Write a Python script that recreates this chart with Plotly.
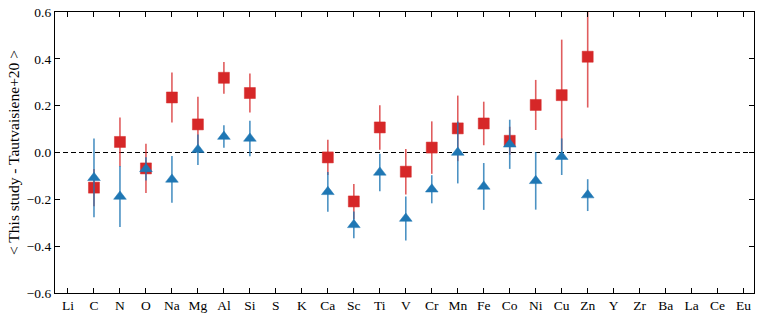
import plotly.graph_objects as go

elements = ["Li", "C", "N", "O", "Na", "Mg", "Al", "Si", "S", "K", "Ca", "Sc", "Ti", "V",
            "Cr", "Mn", "Fe", "Co", "Ni", "Cu", "Zn", "Y", "Zr", "Ba", "La", "Ce", "Eu"]

# Red squares
red_elem = ["C", "N", "O", "Na", "Mg", "Al", "Si", "Ca", "Sc", "Ti", "V", "Cr", "Mn", "Fe", "Co", "Ni", "Cu", "Zn"]
red_val = [-0.15, 0.045, -0.068, 0.235, 0.12, 0.319, 0.254, -0.021, -0.209, 0.107, -0.082, 0.021, 0.103, 0.124, 0.05, 0.203, 0.245, 0.409]
red_err = [0.08, 0.105, 0.105, 0.107, 0.118, 0.068, 0.083, 0.075, 0.075, 0.095, 0.097, 0.112, 0.14, 0.093, 0.06, 0.107, 0.237, 0.217]

# Blue triangles
blue_elem = ["C", "N", "O", "Na", "Mg", "Al", "Si", "Ca", "Sc", "Ti", "V", "Cr", "Mn", "Fe", "Co", "Ni", "Cu", "Zn"]
blue_val = [-0.108, -0.188, -0.07, -0.115, 0.012, 0.068, 0.06, -0.168, -0.309, -0.085, -0.282, -0.157, 0.0, -0.145, 0.035, -0.121, -0.018, -0.182]
blue_err = [0.168, 0.13, 0.05, 0.1, 0.065, 0.048, 0.076, 0.085, 0.057, 0.08, 0.094, 0.06, 0.132, 0.1, 0.105, 0.123, 0.078, 0.068]

y_title = "< This study - Tautvaisiene+20 >"

idx = {e: i for i, e in enumerate(elements)}
font_family = "Liberation Serif"

fig = go.Figure()
fig.add_trace(go.Scatter(
    x=[idx[e] for e in red_elem], y=red_val, mode="markers",
    marker=dict(symbol="square", size=11, color="#d62728",
                line=dict(width=1, color="rgba(214,39,40,0.5)")),
    error_y=dict(type="data", array=red_err, visible=True, width=0,
                 thickness=1.6, color="rgba(214,39,40,0.75)"),
    showlegend=False,
))
fig.add_trace(go.Scatter(
    x=[idx[e] for e in blue_elem], y=blue_val, mode="markers",
    marker=dict(symbol="triangle-up", size=11, color="#1f77b4",
                line=dict(width=1, color="rgba(31,119,180,0.5)")),
    error_y=dict(type="data", array=blue_err, visible=True, width=0,
                 thickness=1.6, color="rgba(31,119,180,0.8)"),
    showlegend=False,
))

fig.add_shape(type="line", xref="paper", yref="y", x0=0, x1=1, y0=0, y1=0,
              line=dict(color="black", width=1.2, dash="5px,3px"), layer="below")

fig.update_layout(
    width=763, height=314,
    margin=dict(l=55, r=9, t=12, b=21, autoexpand=False),
    plot_bgcolor="white", paper_bgcolor="white",
    font=dict(family=font_family, size=13, color="black"),
)
fig.update_xaxes(
    range=[-0.5, 26.4], tickmode="array", tickvals=list(range(len(elements))),
    ticktext=elements, ticks="inside", ticklen=5, tickwidth=1, tickcolor="black",
    showline=True, linecolor="black", linewidth=1.2, mirror="ticks",
    showgrid=False, zeroline=False, tickfont=dict(size=13.5, family=font_family),
    automargin=False,
)
fig.update_yaxes(
    range=[-0.6, 0.6], tickmode="array", tickvals=[-0.6, -0.4, -0.2, 0.0, 0.2, 0.4, 0.6],
    ticktext=["\u22120.6", "\u22120.4", "\u22120.2", "0.0", "0.2", "0.4", "0.6"],
    ticks="inside", ticklen=5, tickwidth=1, tickcolor="black",
    showline=True, linecolor="black", linewidth=1.2, mirror="ticks",
    showgrid=False, zeroline=False, tickfont=dict(size=13.5, family=font_family),
    title=dict(text=y_title, font=dict(size=15.5, family=font_family), standoff=3),
    automargin=False,
)
fig.write_html("out.html", config={"displayModeBar": False},
               post_script="document.body.style.margin='0';document.body.style.overflow='hidden';")
